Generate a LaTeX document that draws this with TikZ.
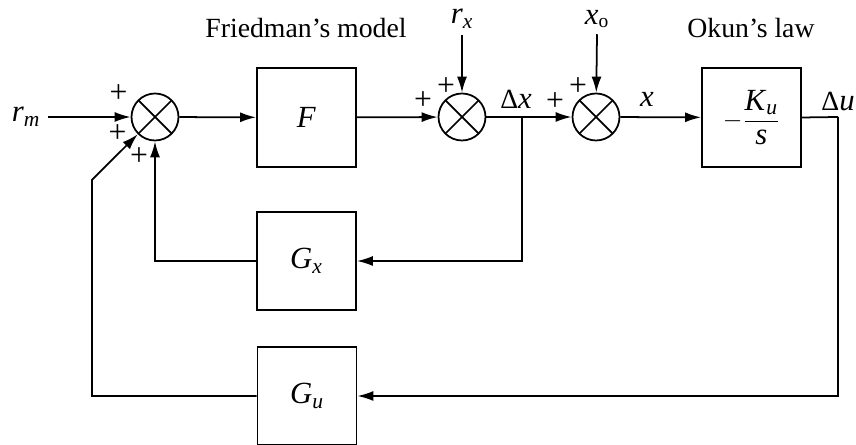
\documentclass[tikz,border=0pt]{standalone}
\usepackage{fontspec}
\setmainfont{Liberation Serif}
\usetikzlibrary{arrows.meta}

\newcommand{\vr}[1]{{\fontsize{17.5}{20}\selectfont\textit{#1}}}
\newcommand{\vrsub}[2]{{\fontsize{17.5}{20}\selectfont\textit{#1}\textsubscript{\textit{#2}}}}

\tikzset{
  block/.style={draw, line width=1pt, minimum width=1.98cm, minimum height=1.98cm, inner sep=0pt},
  sumjn/.style={draw, circle, line width=1pt, minimum size=0.94cm, inner sep=0pt,
    path picture={\draw[line width=1pt] (path picture bounding box.north west) -- (path picture bounding box.south east)
      (path picture bounding box.north east) -- (path picture bounding box.south west);}},
  sig/.style={line width=1pt, -{Latex[length=3.2mm,width=2mm]}},
  wire/.style={line width=1pt},
  plus/.style={font=\fontsize{18}{20}\selectfont, inner sep=0pt},
}

\begin{document}
\begin{tikzpicture}[every node/.style={font=\fontsize{15.8}{19}\selectfont}]
\useasboundingbox (0,0) rectangle (17.12,8.9);

\node[sumjn] (sum1) at (3.10,6.56) {};
\node[block] (F) at (6.13,6.55) {\vr{F}};
\node[sumjn] (sum2) at (9.24,6.56) {};
\node[sumjn] (sum3) at (11.92,6.56) {};
\node[block] (okun) at (15.03,6.55) {$\displaystyle -\frac{\mbox{\vrsub{K}{u}}}{\mbox{\vr{s}}}$};
\node[block, minimum height=1.96cm] (gx) at (6.13,3.68) {\vrsub{G}{x}};
\node[block, minimum height=1.96cm] (gu) at (6.14,0.98) {\vrsub{G}{u}};

\node (fried) at (6.12,8.34) {Friedman’s model};
\node (okunlbl) at (15.02,8.34) {Okun’s law};

\node (rm) at (0.52,6.56) {\vrsub{r}{m}};
\node (rx) at (9.24,8.52) {\vrsub{r}{x}};
\node (xo) at (11.94,8.52) {\vr{x}\textsubscript{o}};
\node (dx) at (10.32,6.92) {Δ\vr{x}};
\node (xl) at (12.94,6.92) {\vr{x}};
\node (du) at (16.76,6.86) {Δ\vr{u}};

\node[plus] at (2.37,7.02) {+};
\node[plus] at (2.35,6.22) {+};
\node[plus] at (2.78,5.76) {+};
\node[plus] at (8.46,6.88) {+};
\node[plus] at (8.92,7.16) {+};
\node[plus] at (11.10,6.86) {+};
\node[plus] at (11.56,7.16) {+};

\coordinate (in) at (0.96,6.56);
\coordinate (branch) at (10.44,6.56);
\coordinate (outc) at (16.76,6.56);
\coordinate (lc) at (1.84,5.30);

% forward path
\draw[sig] (in) -- (sum1);
\draw[sig] (sum1) -- (F);
\draw[sig] (F) -- (sum2);
\draw[sig] (sum2) -- (sum3);
\draw[sig] (sum3) -- (okun);
\draw[wire] (okun.east) -- (outc);
\draw[sig] (rx.south) -- (sum2);
\draw[sig] (xo.south) -- (sum3);

% feedback
\draw[sig] (branch) |- (gx.east);
\draw[sig] (gx.west) -| (sum1.south);
\draw[sig] (outc) |- (gu.east);
\draw[sig] (gu.west) -| (lc) -- (sum1.225);
\end{tikzpicture}
\end{document}
